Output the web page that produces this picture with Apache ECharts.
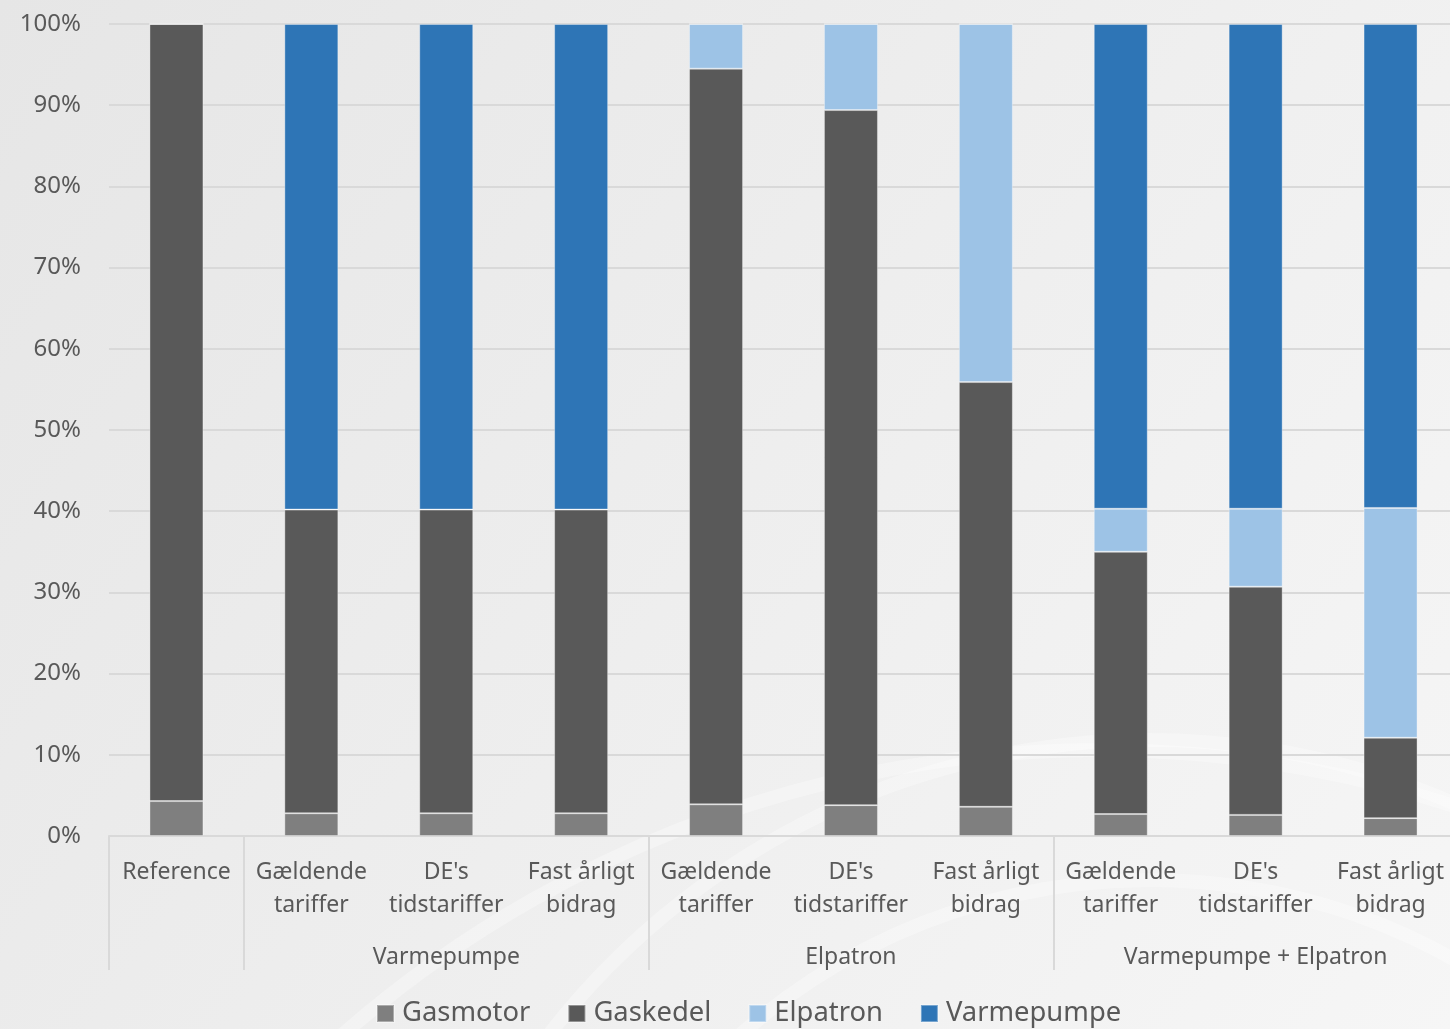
<!DOCTYPE html>
<html>
<head>
<meta charset="utf-8">
<style>
  html, body { margin: 0; padding: 0; overflow: hidden; }
  #chart { width: 1458px; height: 1029px; }
</style>
<script src="https://cdn.jsdelivr.net/npm/echarts@6/dist/echarts.min.js"></script>
</head>
<body>
<div id="chart"></div>
<script>
// Scenario labels (lower level) and their groups (upper level)
const categories = [
  'Reference',
  'Gældende\ntariffer', "DE's\ntidstariffer", 'Fast årligt\nbidrag',
  'Gældende\ntariffer', "DE's\ntidstariffer", 'Fast årligt\nbidrag',
  'Gældende\ntariffer', "DE's\ntidstariffer", 'Fast årligt\nbidrag'
];
const groupNames = ['', '', 'Varmepumpe', '', '', 'Elpatron', '', '', 'Varmepumpe + Elpatron', ''];
const groupStarts = [0, 1, 4, 7];

// Share of heat production per unit (%)
const gasmotor   = [4.3, 2.8, 2.8, 2.8, 3.9, 3.8, 3.6, 2.7, 2.6, 2.2];
const gaskedel   = [95.7, 37.4, 37.4, 37.4, 90.6, 85.6, 52.3, 32.3, 28.1, 9.9];
const elpatron   = [0, 0, 0, 0, 5.5, 10.6, 44.1, 5.3, 9.6, 28.3];
const varmepumpe = [0, 59.8, 59.8, 59.8, 0, 0, 0, 59.7, 59.7, 59.6];

const yTicks = [0, 10, 20, 30, 40, 50, 60, 70, 80, 90, 100];

const seriesDefs = [
  { name: 'Gasmotor', data: gasmotor, color: '#7f7f7f' },
  { name: 'Gaskedel', data: gaskedel, color: '#595959' },
  { name: 'Elpatron', data: elpatron, color: '#9dc3e6' },
  { name: 'Varmepumpe', data: varmepumpe, color: '#2e75b6' }
];

const textColor = '#595959';
const font = '"Noto Sans", "Open Sans", sans-serif';

const chart = echarts.init(document.getElementById('chart'), null, { renderer: 'canvas' });

// faint decorative arcs in the background
const arcStyle = { stroke: 'rgba(255,255,255,0.3)', lineWidth: 14, fill: 'none' };
const decor = [
  { type: 'arc', shape: { cx: 1150, cy: 1500, r: 760, startAngle: Math.PI * 1.05, endAngle: Math.PI * 1.75 }, style: arcStyle },
  { type: 'arc', shape: { cx: 1150, cy: 1500, r: 620, startAngle: Math.PI * 1.05, endAngle: Math.PI * 1.85 }, style: arcStyle },
  { type: 'arc', shape: { cx: 1100, cy: 1900, r: 1150, startAngle: Math.PI * 1.25, endAngle: Math.PI * 1.6 }, style: arcStyle }
].map(g => Object.assign({ z: -10, silent: true }, g));

chart.setOption({
  backgroundColor: {
    type: 'linear', x: 0, y: 0, x2: 1, y2: 1,
    colorStops: [
      { offset: 0, color: '#e6e6e6' },
      { offset: 1, color: '#f6f6f6' }
    ]
  },
  animation: false,
  graphic: decor,
  grid: { left: 109, right: 0, top: 24, bottom: 193, containLabel: false },
  legend: {
    data: seriesDefs.map(s => s.name),
    left: 371,
    top: 995,
    icon: 'rect',
    itemWidth: 17,
    itemHeight: 17,
    itemGap: 37,
    textStyle: { fontSize: 27.4, color: textColor, fontFamily: font, padding: [0, 0, 0, 3] }
  },
  xAxis: [
    {
      type: 'category',
      data: categories,
      position: 'bottom',
      axisLine: { show: true, lineStyle: { color: '#d9d9d9', width: 2 } },
      axisTick: {
        show: true,
        length: 134,
        interval: (i) => groupStarts.includes(i),
        lineStyle: { color: '#d9d9d9', width: 2 }
      },
      axisLabel: {
        interval: 0,
        margin: 20,
        fontSize: 23,
        lineHeight: 33,
        color: textColor,
        fontFamily: font,
        align: 'center'
      }
    },
    {
      type: 'category',
      data: categories,
      position: 'bottom',
      axisLine: { show: false },
      axisTick: { show: false },
      axisLabel: {
        interval: 0,
        margin: 110,
        fontSize: 23,
        color: textColor,
        fontFamily: font,
        formatter: (v, i) => groupNames[i]
      }
    }
  ],
  yAxis: {
    type: 'value',
    min: yTicks[0],
    max: yTicks[yTicks.length - 1],
    interval: 10,
    axisLine: { show: false },
    axisTick: { show: false },
    splitLine: { lineStyle: { color: '#d9d9d9', width: 2 } },
    axisLabel: {
      formatter: '{value}%',
      margin: 28,
      fontSize: 24,
      color: textColor,
      fontFamily: font
    }
  },
  series: seriesDefs.map(s => ({
    name: s.name,
    type: 'bar',
    stack: 'total',
    xAxisIndex: 0,
    data: s.data,
    barWidth: 54,
    itemStyle: { color: s.color, borderColor: 'rgba(255,255,255,0.35)', borderWidth: 1 },
    emphasis: { disabled: true }
  }))
});
</script>
</body>
</html>
